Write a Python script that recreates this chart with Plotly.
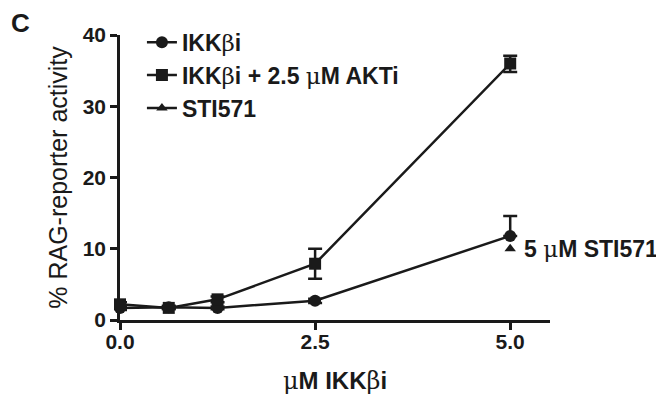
import plotly.graph_objects as go

# ---- data ----
conc = [0, 0.625, 1.25, 2.5, 5]
ikk_vals = [1.7, 1.8, 1.7, 2.7, 11.8]
ikk_err_up = [0.3, 0.2, 0.2, 0.3, 2.8]
ikk_err_dn = [0.3, 0.2, 0.2, 0.3, 0.0]
akt_vals = [2.2, 1.7, 2.9, 7.9, 36.0]
akt_err_up = [0.3, 0.2, 0.4, 2.1, 1.1]
akt_err_dn = [0.3, 0.2, 0.4, 2.1, 1.2]
sti_x = [5]
sti_vals = [10.0]
x_ticks = [0, 2.5, 5]
x_tick_labels = ["0.0", "2.5", "5.0"]
y_ticks = [0, 10, 20, 30, 40]

INK = "#1a1a1a"
FONT = "Liberation Sans, Arial, sans-serif"
G = "<span style=\"font-weight:normal;font-family:'DejaVu Serif'\">"


def greek(ch):
    return G + ch + "</span>"


fig = go.Figure()

fig.add_trace(go.Scatter(
    x=conc, y=ikk_vals, mode="lines+markers", name="IKK" + greek("β") + "i",
    line=dict(color=INK, width=2.5),
    marker=dict(symbol="circle", size=12, color=INK),
    error_y=dict(type="data", symmetric=False, array=ikk_err_up, arrayminus=ikk_err_dn,
                 color=INK, thickness=2.5, width=7),
    cliponaxis=False,
))
fig.add_trace(go.Scatter(
    x=conc, y=akt_vals, mode="lines+markers",
    name="IKK" + greek("β") + "i + 2.5 " + greek("μ") + "M AKTi",
    line=dict(color=INK, width=2.5),
    marker=dict(symbol="square", size=12, color=INK),
    error_y=dict(type="data", symmetric=False, array=akt_err_up, arrayminus=akt_err_dn,
                 color=INK, thickness=2.5, width=7),
    cliponaxis=False,
))
fig.add_trace(go.Scatter(
    x=sti_x, y=sti_vals, mode="lines+markers", name="STI571",
    line=dict(color=INK, width=2.5),
    marker=dict(symbol="triangle-up", size=10, color=INK),
    cliponaxis=False,
))

fig.add_annotation(
    x=sti_x[0], y=sti_vals[0], xref="x", yref="y",
    text="5 " + greek("μ") + "M STI571", showarrow=False,
    xanchor="left", yanchor="middle", xshift=12,
    font=dict(family=FONT, size=23, color=INK, weight="bold"),
)
fig.add_annotation(
    x=-0.257, y=1.10, xref="paper", yref="paper", text="C", showarrow=False,
    xanchor="left", yanchor="top",
    font=dict(family=FONT, size=26, color=INK, weight="bold"),
)

fig.update_layout(
    width=656, height=387,
    margin=dict(l=112, r=114, t=27, b=75),
    paper_bgcolor="white", plot_bgcolor="white",
    font=dict(family=FONT, color=INK),
    showlegend=True,
    legend=dict(
        x=0.051, y=1.05, xanchor="left", yanchor="top",
        bgcolor="rgba(0,0,0,0)",
        font=dict(family=FONT, size=23, color=INK, weight="bold"),
        itemwidth=30, tracegroupgap=0,
    ),
    xaxis=dict(
        range=[0, 5.51], tickvals=x_ticks, ticktext=x_tick_labels,
        showline=True, linecolor=INK, linewidth=2.5,
        ticks="outside", ticklen=7, tickwidth=2.5, tickcolor=INK,
        showgrid=False, zeroline=False, automargin=False,
        ticklabelstandoff=-6,
        tickfont=dict(family=FONT, size=21, color=INK, weight="bold"),
        title=dict(text=greek("μ") + "M IKK" + greek("β") + "i", standoff=22,
                   font=dict(family=FONT, size=24, color=INK, weight="bold")),
    ),
    yaxis=dict(
        range=[0, 40], tickvals=y_ticks,
        showline=True, linecolor=INK, linewidth=2.5,
        ticks="outside", ticklen=7, tickwidth=2.5, tickcolor=INK,
        showgrid=False, zeroline=False, automargin=False,
        tickfont=dict(family=FONT, size=21, color=INK, weight="bold"),
        title=dict(text="% RAG-reporter activity", standoff=8,
                   font=dict(family=FONT, size=25, color=INK)),
    ),
)

fig.write_html("out.html")
